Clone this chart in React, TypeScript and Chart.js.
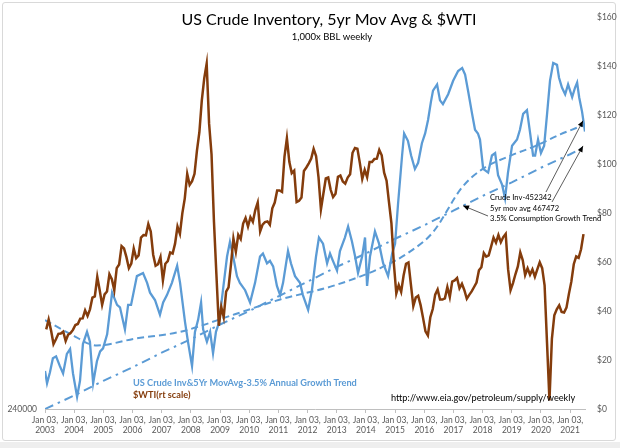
import React, { useEffect, useRef } from "react";
import { Chart, registerables } from "chart.js";

Chart.register(...registerables);

const FONT = "Lato, 'Open Sans', sans-serif";
const BLUE = "#5B9BD5";
const BROWN = "#843C0C";
const GREY = "#595959";

const TITLE = "US Crude Inventory, 5yr Mov Avg & $WTI";
const SUBTITLE = "1,000x BBL weekly";
const LEGEND_INV = "US Crude Inv&5Yr MovAvg-3.5% Annual Growth Trend";
const LEGEND_WTI = "$WTI(rt scale)";
const SOURCE = "http://www.eia.gov/petroleum/supply/weekly";
const NOTE = ["Crude Inv-452342", "5yr mov avg 467472", "3.5% Consumption Growth Trend"];

// x-axis tick years (labelled "Jan 03, yyyy")
const YEARS = [2003, 2004, 2005, 2006, 2007, 2008, 2009, 2010, 2011, 2012, 2013, 2014, 2015, 2016, 2017, 2018, 2019, 2020, 2021];

// US crude inventory (left scale) — [decimal year, 1,000 bbl]
const inv2003_2008: [number, number][] = [
  [2003.0, 271000], [2003.07, 261000], [2003.17, 270000], [2003.27, 281500], [2003.38, 283000], [2003.51, 275000],
  [2003.62, 269000], [2003.75, 285000], [2003.86, 289000], [2003.96, 269000], [2004.1, 250000], [2004.2, 263000],
  [2004.3, 293000], [2004.44, 303000], [2004.54, 295000], [2004.65, 261000], [2004.78, 279000], [2004.89, 287000],
  [2004.99, 289500], [2005.13, 301000], [2005.3, 335000], [2005.47, 325000], [2005.57, 323000], [2005.74, 305000],
  [2005.85, 325000], [2005.95, 325000], [2006.15, 348500], [2006.36, 351000], [2006.5, 343000], [2006.6, 335000],
  [2006.77, 329000], [2006.94, 317000], [2007.05, 327000], [2007.18, 333000], [2007.35, 343000], [2007.53, 357000],
  [2007.63, 343000], [2007.8, 311000], [2007.9, 295000], [2008.04, 275000], [2008.14, 303000], [2008.25, 313000],
  [2008.35, 327000], [2008.42, 305000], [2008.55, 295000], [2008.66, 303000], [2008.76, 285500], [2008.86, 303000],
  [2008.97, 311000],
];
const inv2009_2014: [number, number][] = [
  [2009.1, 337000], [2009.24, 364500], [2009.34, 376500], [2009.45, 364500], [2009.58, 348500], [2009.68, 343000],
  [2009.86, 337000], [2010.03, 327000], [2010.2, 343000], [2010.37, 364500], [2010.47, 367000], [2010.61, 359000],
  [2010.71, 361000], [2010.82, 356500], [2010.95, 340500], [2011.06, 333000], [2011.16, 343000], [2011.33, 369000],
  [2011.43, 359000], [2011.57, 348500], [2011.74, 343000], [2011.84, 333000], [2012.02, 321000], [2012.15, 337000],
  [2012.29, 364500], [2012.39, 380000], [2012.53, 375000], [2012.67, 359000], [2012.77, 367000], [2012.87, 361000],
  [2013.01, 353000], [2013.11, 369000], [2013.28, 380000], [2013.39, 389000], [2013.52, 377000], [2013.63, 364500],
  [2013.73, 351000], [2013.87, 364500], [2013.97, 380000], [2014.04, 340500], [2014.14, 364500], [2014.31, 385000],
  [2014.45, 375000], [2014.59, 359000], [2014.76, 348500], [2014.9, 367000],
];
const inv2015_2021: [number, number][] = [
  [2015.0, 375000], [2015.1, 407000], [2015.24, 447000], [2015.31, 465000], [2015.44, 459000], [2015.55, 447000],
  [2015.68, 436000], [2015.79, 441000], [2015.92, 457000], [2016.03, 465000], [2016.13, 476000], [2016.23, 491000],
  [2016.3, 500000], [2016.44, 505000], [2016.54, 492000], [2016.64, 489000], [2016.82, 497000], [2016.99, 508000],
  [2017.16, 516000], [2017.3, 518500], [2017.4, 513000], [2017.5, 500000], [2017.64, 481000], [2017.74, 468000],
  [2017.84, 465000], [2017.91, 460000], [2018.02, 436000], [2018.19, 433000], [2018.32, 447000], [2018.43, 449000],
  [2018.53, 431000], [2018.67, 423000], [2018.77, 412000], [2018.87, 433000], [2019.01, 455000], [2019.18, 460000],
  [2019.28, 468000], [2019.39, 481000], [2019.52, 484000], [2019.63, 465000], [2019.73, 447000], [2019.8, 447000],
  [2019.9, 460000], [2020.0, 449000], [2020.11, 455000], [2020.21, 481000], [2020.31, 508000], [2020.42, 522500],
  [2020.55, 521000], [2020.62, 510500], [2020.72, 502500], [2020.83, 497000], [2020.93, 505000], [2021.07, 494600],
  [2021.17, 502500], [2021.24, 506500], [2021.31, 494600], [2021.41, 482600], [2021.51, 466600],
];

// 5-yr moving average (left scale)
const movAvg: [number, number][] = [
  [2003.0, 312600], [2003.86, 301400], [2004.78, 291900], [2006.09, 297500], [2007.63, 303000], [2009.51, 317400],
  [2011.06, 329400], [2012.87, 340500], [2014.48, 354900], [2015.51, 368500], [2016.3, 384400], [2017.3, 421100],
  [2018.02, 436300], [2018.94, 446700], [2019.8, 454700], [2020.66, 464200], [2021.51, 472200],
];

// 3.5% growth trend (left scale)
const trendYears = [2003, 2004, 2005, 2006, 2007, 2008, 2009, 2010, 2011, 2012, 2013, 2014, 2015, 2016, 2017, 2018, 2019, 2020, 2021, 2021.51];
const trendValues = [240000, 251000, 263000, 274000, 286000, 297000, 309000, 320000, 332000, 344000, 356000, 367000, 379000, 390000, 402000, 414000, 425000, 437000, 448000, 454000];

// WTI $/bbl (right scale), monthly
const wti2003 = [32.5, 36.5, 32.0, 26.5, 28.5, 30.7, 30.8, 31.6, 27.8, 30.3, 31.0, 32.3];
const wti2004 = [34.3, 34.7, 36.9, 37.0, 40.3, 38.0, 40.7, 45.5, 46.0, 54.0, 48.5, 42.5];
const wti2005 = [46.8, 48.0, 55.0, 53.0, 48.5, 57.5, 59.0, 66.5, 65.6, 62.0, 57.5, 59.4];
const wti2006 = [65.5, 61.6, 62.7, 70.0, 71.0, 70.9, 75.5, 72.5, 63.0, 58.5, 59.1, 62.0];
const wti2007 = [52.5, 59.3, 60.4, 63.9, 63.5, 67.5, 74.5, 71.5, 80.0, 86.0, 96.0, 91.5];
const wti2008 = [93.0, 96.0, 105.5, 113.0, 126.0, 135.0, 141.0, 116.5, 104.0, 76.5, 55.0, 34.0];
const wti2009 = [41.7, 37.5, 47.9, 49.7, 59.0, 69.6, 64.2, 71.1, 69.4, 75.7, 78.0, 74.5];
const wti2010 = [78.3, 76.4, 81.2, 84.3, 72.5, 75.3, 76.3, 76.6, 75.2, 81.9, 84.3, 89.2];
const wti2011 = [89.2, 88.6, 102.9, 110.5, 100.9, 96.3, 97.3, 84.5, 85.0, 86.3, 97.2, 98.6];
const wti2012 = [100.3, 102.2, 106.2, 103.3, 94.7, 81.5, 87.9, 94.1, 94.5, 89.5, 86.5, 87.9];
const wti2013 = [94.8, 95.3, 92.9, 92.0, 94.5, 95.8, 104.6, 106.6, 106.3, 100.5, 93.9, 97.6];
const wti2014 = [94.6, 100.8, 100.8, 102.1, 102.2, 105.8, 103.6, 96.5, 93.2, 84.4, 75.8, 59.3];
const wti2015 = [47.2, 50.6, 47.8, 54.5, 59.3, 59.8, 50.9, 42.0, 45.5, 46.2, 42.4, 37.2];
const wti2016 = [31.7, 30.0, 37.5, 40.8, 46.7, 48.8, 44.7, 44.7, 45.2, 49.8, 45.7, 52.0];
const wti2017 = [52.5, 53.5, 49.3, 51.1, 48.5, 45.0, 46.6, 48.0, 49.8, 51.6, 56.6, 57.9];
const wti2018 = [63.7, 62.2, 62.7, 66.3, 70.0, 67.9, 71.0, 68.1, 70.2, 71.5, 57.0, 48.5];
const wti2019 = [51.4, 55.0, 58.2, 63.9, 60.8, 54.7, 57.4, 54.8, 57.0, 54.0, 57.0, 59.9];
const wti2020 = [57.5, 50.5, 27.0, 3.5, 28.6, 38.3, 40.7, 42.3, 39.6, 39.4, 41.4, 47.0];
const wti2021 = [52.0, 59.1, 62.3, 61.7, 65.2, 71.4];
const WTI_YEARS = [wti2003, wti2004, wti2005, wti2006, wti2007, wti2008, wti2009, wti2010, wti2011, wti2012,
  wti2013, wti2014, wti2015, wti2016, wti2017, wti2018, wti2019, wti2020, wti2021];

// annotation arrow tip on the growth trend
const TREND_TIP: [number, number] = [2017.33, 406000];

function arrow(ctx: CanvasRenderingContext2D, x0: number, y0: number, x1: number, y1: number) {
  ctx.beginPath();
  ctx.moveTo(x0, y0);
  ctx.lineTo(x1, y1);
  ctx.stroke();
  const a = Math.atan2(y1 - y0, x1 - x0);
  const L = 6, W = 2.6;
  ctx.beginPath();
  ctx.moveTo(x1, y1);
  ctx.lineTo(x1 - L * Math.cos(a) + W * Math.sin(a), y1 - L * Math.sin(a) - W * Math.cos(a));
  ctx.lineTo(x1 - L * Math.cos(a) - W * Math.sin(a), y1 - L * Math.sin(a) + W * Math.cos(a));
  ctx.closePath();
  ctx.fill();
}

const overlayPlugin = {
  id: "overlay",
  afterDatasetsDraw(chart: any) {
    const { ctx, scales } = chart;
    const sx = scales.x, sy = scales.y;
    ctx.save();
    ctx.textBaseline = "middle";
    ctx.fillStyle = "#000";
    ctx.textAlign = "center";
    ctx.font = `16px ${FONT}`;
    ctx.fillText(TITLE, 329, 20);
    ctx.font = `9.5px ${FONT}`;
    ctx.fillText(SUBTITLE, 332, 37);

    ctx.textAlign = "left";
    ctx.font = `bold 9.2px ${FONT}`;
    ctx.fillStyle = BLUE;
    ctx.fillText(LEGEND_INV, 133, 383);
    ctx.fillStyle = BROWN;
    ctx.fillText(LEGEND_WTI, 133, 395);

    ctx.fillStyle = "#000";
    ctx.font = `9.2px ${FONT}`;
    ctx.fillText(SOURCE, 391, 398);

    ctx.font = `7.6px ${FONT}`;
    NOTE.forEach((s, i) => ctx.fillText(s, 490, 198 + i * 10.5));

    ctx.strokeStyle = "#333";
    ctx.fillStyle = "#000";
    ctx.lineWidth = 0.8;
    const lastMA = movAvg[movAvg.length - 1];
    const lastTr = trendValues[trendValues.length - 1];
    const lastTrX = trendYears[trendYears.length - 1];
    arrow(ctx, 546, 192, sx.getPixelForValue(lastMA[0]) - 2, sy.getPixelForValue(lastMA[1]) - 4);
    arrow(ctx, 552, 202, sx.getPixelForValue(lastTrX) - 2, sy.getPixelForValue(lastTr) - 1);
    arrow(ctx, 488, 216, sx.getPixelForValue(TREND_TIP[0]), sy.getPixelForValue(TREND_TIP[1]));
    ctx.restore();
  },
};

export default function App() {
  const ref = useRef<HTMLCanvasElement | null>(null);

  useEffect(() => {
    if (!ref.current) return;
    const inventory = [...inv2003_2008, ...inv2009_2014, ...inv2015_2021].map(([x, y]) => ({ x, y }));
    const ma = movAvg.map(([x, y]) => ({ x, y }));
    const trend = trendYears.map((x, i) => ({ x, y: trendValues[i] }));
    const wti: { x: number; y: number }[] = [];
    WTI_YEARS.forEach((arr, yi) => arr.forEach((v, m) => wti.push({ x: 2003 + yi + (m + 0.5) / 12, y: v })));

    const tickFont = { family: FONT, size: 8.5 };
    const chart = new Chart(ref.current, {
      type: "line",
      data: {
        datasets: [
          { label: "$WTI", data: wti, yAxisID: "y2", borderColor: BROWN, borderWidth: 2.5, pointRadius: 0, tension: 0 },
          { label: "Crude Inv", data: inventory, yAxisID: "y", borderColor: BLUE, borderWidth: 2.3, pointRadius: 0, tension: 0 },
          { label: "5yr Mov Avg", data: ma, yAxisID: "y", borderColor: BLUE, borderWidth: 2, borderDash: [7, 4], pointRadius: 0, cubicInterpolationMode: "monotone" },
          { label: "3.5% Trend", data: trend, yAxisID: "y", borderColor: BLUE, borderWidth: 2, borderDash: [9, 5, 2.5, 5], pointRadius: 0, tension: 0 },
        ],
      } as any,
      options: {
        responsive: false,
        animation: false,
        events: [],
        layout: { padding: { top: 8, left: 0, right: 0, bottom: 0 } },
        plugins: { legend: { display: false }, tooltip: { enabled: false }, title: { display: false } },
        scales: {
          x: {
            type: "linear",
            min: 2003,
            max: 2021.51,
            afterBuildTicks: (s: any) => { s.ticks = YEARS.map((v) => ({ value: v })); },
            afterFit: (s: any) => { s.height = 39; },
            ticks: {
              autoSkip: false, maxRotation: 0, padding: 2, color: GREY, font: tickFont,
              callback: (v: any) => ["Jan 03,", String(v)],
            },
            grid: { display: true, drawOnChartArea: false, drawTicks: true, tickLength: 4, color: "#bfbfbf" },
            border: { display: true, color: "#bfbfbf" },
          },
          y: {
            type: "linear",
            position: "left",
            min: 240000,
            max: 560000,
            afterBuildTicks: (s: any) => { s.ticks = [{ value: 240000 }]; },
            afterFit: (s: any) => { s.width = 45; },
            ticks: { padding: 8, color: GREY, font: tickFont, callback: (v: any) => String(v) },
            grid: { display: false, drawTicks: false },
            border: { display: false },
          },
          y2: {
            type: "linear",
            position: "right",
            min: 0,
            max: 160,
            afterFit: (s: any) => { s.width = 35; },
            ticks: { stepSize: 20, padding: 12, color: GREY, font: tickFont, callback: (v: any) => "$" + v },
            grid: { display: false, drawTicks: false },
            border: { display: false },
          },
        },
      } as any,
      plugins: [overlayPlugin],
    });
    return () => chart.destroy();
  }, []);

  return (
    <div style={{ position: "absolute", left: 0, top: 0, width: 620, height: 448, background: "#fff", overflow: "hidden" }}>
      <div style={{ position: "absolute", left: 2, top: 2, width: 612, height: 437, border: "1px solid #d9d9d9", borderRadius: 3 }} />
      <div style={{ position: "absolute", left: 0, top: 442, width: 620, height: 6, background: "#eeeeee" }} />
      <canvas ref={ref} width={620} height={448} style={{ position: "absolute", left: 0, top: 0 }} />
    </div>
  );
}
